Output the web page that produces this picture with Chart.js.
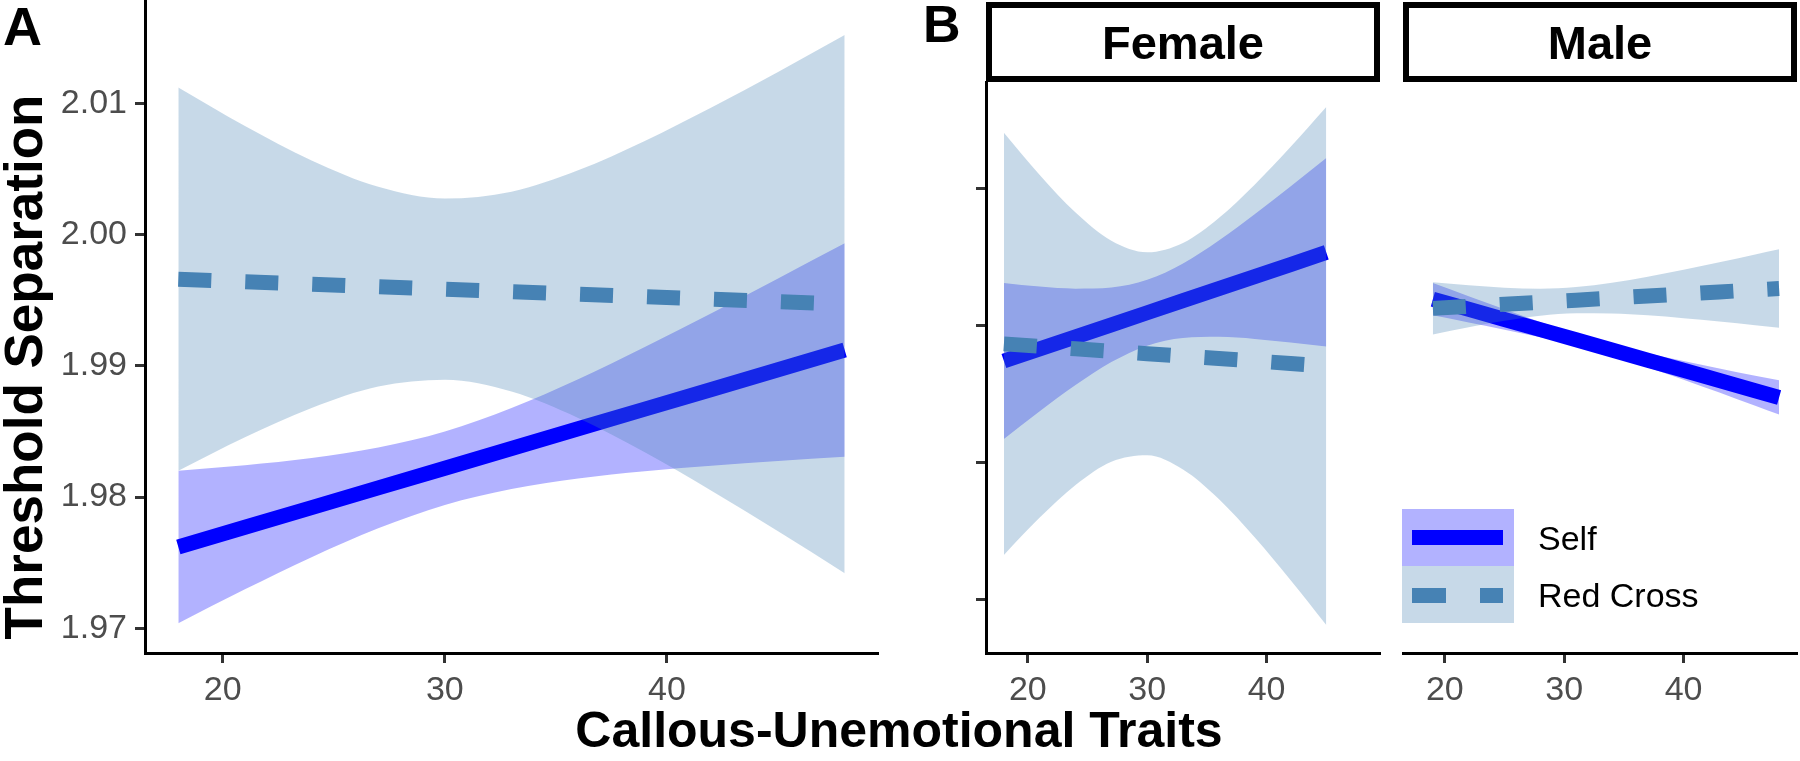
<!DOCTYPE html>
<html>
<head>
<meta charset="utf-8">
<script src="https://cdn.jsdelivr.net/npm/chart.js@4.4.1/dist/chart.umd.min.js"></script>
<style>
body { margin: 0; background: #fff; }
#wrap { position: relative; width: 1800px; height: 761px; overflow: hidden; font-family: 'Liberation Sans', Arial, sans-serif; }
canvas { position: absolute; top: 0; }
.lbl { position: absolute; font-weight: bold; line-height: 1; color: #000; white-space: nowrap; }
.strip { position: absolute; top: 2px; height: 80px; box-sizing: border-box; border: 6px solid #000; font-weight: bold; font-size: 47px; display: flex; align-items: center; justify-content: center; background: #fff; }
.box { position: absolute; }
.legtxt { position: absolute; font-size: 34px; line-height: 34px; color: #000; white-space: nowrap; }
</style>
</head>
<body>
<div id="wrap">
  <canvas id="panelA" width="900" height="761" style="left:0px"></canvas>
  <canvas id="panelF" width="500" height="761" style="left:900px"></canvas>
  <canvas id="panelM" width="410" height="761" style="left:1390px"></canvas>

  <div class="lbl" style="left:3px; top:-1px; font-size:54px;">A</div>
  <div class="lbl" style="left:923px; top:-2px; font-size:52px;">B</div>

  <div class="strip" style="left:986px; width:394px;">Female</div>
  <div class="strip" style="left:1403px; width:394px;">Male</div>

  <div class="lbl" style="left:-276px; top:341px; width:600px; height:52px; font-size:53px; line-height:52px; text-align:center; transform:rotate(-90deg);">Threshold Separation</div>
  <div class="lbl" style="left:0px; top:705px; width:1798px; font-size:50px; text-align:center;">Callous-Unemotional Traits</div>

  <div class="box" style="left:1402px; top:509px; width:112px; height:57px; background:rgba(0,0,255,0.3);"></div>
  <div class="box" style="left:1402px; top:566px; width:112px; height:57px; background:rgba(70,130,180,0.3);"></div>
  <div class="box" style="left:1412px; top:530px; width:91px; height:15px; background:#0000ff;"></div>
  <div class="box" style="left:1412px; top:588px; width:34px; height:15px; background:#4682b4;"></div>
  <div class="box" style="left:1480px; top:588px; width:23px; height:15px; background:#4682b4;"></div>
  <div class="legtxt" style="left:1538px; top:521px;">Self</div>
  <div class="legtxt" style="left:1538px; top:578px;">Red Cross</div>
</div>

<script>
// tick labels
const xTicks = [20, 30, 40];
const yTicksA = [1.97, 1.98, 1.99, 2.00, 2.01];
const yTicksB = [1.97, 1.98, 1.99, 2.00];

// panel A (all participants)
const cuA = [18, 21, 24, 27, 30, 33, 36, 39, 42, 45, 48];
const selfA = [1.9762, 1.9777, 1.9792, 1.9807, 1.9822, 1.9837, 1.9852, 1.9867, 1.9882, 1.9897, 1.9912];
const selfHiA = [1.98201, 1.98243, 1.98298, 1.98378, 1.98500, 1.98678, 1.98898, 1.99143, 1.99401, 1.99665, 1.99933];
const selfLoA = [1.97039, 1.97297, 1.97542, 1.97762, 1.97940, 1.98062, 1.98142, 1.98197, 1.98239, 1.98275, 1.98307];
const rcA = [1.99660, 1.99641, 1.99622, 1.99603, 1.99584, 1.99565, 1.99546, 1.99527, 1.99508, 1.99489, 1.99470];
const rcHiA = [2.01120, 2.00827, 2.00565, 2.00364, 2.00274, 2.00326, 2.00489, 2.00713, 2.00968, 2.01239, 2.01520];
const rcLoA = [1.98200, 1.98455, 1.98679, 1.98842, 1.98894, 1.98804, 1.98603, 1.98341, 1.98048, 1.97739, 1.97420];

// panel B, Female
const cuF = [18, 21, 24, 27, 30, 33, 36, 39, 42, 45];
const selfF = [1.98744, 1.98832, 1.98920, 1.99008, 1.99096, 1.99184, 1.99272, 1.99360, 1.99448, 1.99537];
const selfHiF = [1.99313, 1.99287, 1.99272, 1.99280, 1.99336, 1.99456, 1.99624, 1.99815, 2.00017, 2.00225];
const selfLoF = [1.98175, 1.98377, 1.98568, 1.98736, 1.98856, 1.98912, 1.98920, 1.98905, 1.98879, 1.98849];
const rcF = [1.98869, 1.98851, 1.98833, 1.98815, 1.98797, 1.98779, 1.98762, 1.98744, 1.98726, 1.98708];
const rcHiF = [2.00409, 2.00101, 1.99827, 1.99621, 1.99537, 1.99605, 1.99787, 2.00031, 2.00306, 2.00598];
const rcLoF = [1.97329, 1.97601, 1.97839, 1.98009, 1.98057, 1.97953, 1.97737, 1.97457, 1.97146, 1.96818];

// panel B, Male
const cuM = [19, 22, 25, 28, 31, 34, 37, 40, 43, 46, 48];
const selfM = [1.99195, 1.99121, 1.99047, 1.98973, 1.98899, 1.98824, 1.98750, 1.98676, 1.98602, 1.98527, 1.98478];
const selfHiM = [1.99313, 1.99217, 1.99122, 1.99029, 1.98942, 1.98865, 1.98801, 1.98744, 1.98690, 1.98637, 1.98603];
const selfLoM = [1.99077, 1.99025, 1.98972, 1.98917, 1.98856, 1.98783, 1.98699, 1.98608, 1.98514, 1.98417, 1.98353];
const rcM = [1.99128, 1.99143, 1.99158, 1.99173, 1.99188, 1.99203, 1.99218, 1.99233, 1.99248, 1.99263, 1.99273];
const rcHiM = [1.99318, 1.99296, 1.99279, 1.99272, 1.99284, 1.99315, 1.99359, 1.99410, 1.99464, 1.99521, 1.99559];
const rcLoM = [1.98938, 1.98990, 1.99037, 1.99074, 1.99092, 1.99091, 1.99077, 1.99056, 1.99032, 1.99005, 1.98987];

const selfColor = '#0000ff';
const rcColor = '#4682b4';
const selfBand = 'rgba(0, 0, 255, 0.3)';
const rcBand = 'rgba(70, 130, 180, 0.3)';

Chart.defaults.font.family = "'Liberation Sans', Arial, sans-serif";

function pts(xs, ys) {
    return xs.map(function (x, i) { return { x: x, y: ys[i] }; });
}

function band(data, fillTo, color, order) {
    return {
        data: data,
        borderWidth: 0,
        borderColor: 'transparent',
        backgroundColor: color,
        fill: fillTo,
        cubicInterpolationMode: 'monotone',
        pointRadius: 0,
        order: order
    };
}

function makePanel(id, p) {
    var ctx = document.getElementById(id);
    return new Chart(ctx, {
        type: 'line',
        data: {
            datasets: [
                {
                    label: 'Red Cross',
                    data: pts(p.x, p.rc),
                    borderColor: rcColor,
                    borderWidth: 15,
                    borderDash: [33, 34],
                    borderCapStyle: 'butt',
                    tension: 0,
                    pointRadius: 0,
                    fill: false,
                    order: 1
                },
                band(pts(p.x, p.rcHi), 2, rcBand, 2),
                band(pts(p.x, p.rcLo), false, 'transparent', 3),
                {
                    label: 'Self',
                    data: pts(p.x, p.self),
                    borderColor: selfColor,
                    borderWidth: 15,
                    borderCapStyle: 'butt',
                    tension: 0,
                    pointRadius: 0,
                    fill: false,
                    order: 4
                },
                band(pts(p.x, p.selfHi), 5, selfBand, 5),
                band(pts(p.x, p.selfLo), false, 'transparent', 6)
            ]
        },
        options: {
            responsive: false,
            animation: false,
            devicePixelRatio: 1,
            events: [],
            layout: { padding: p.pad },
            plugins: {
                legend: { display: false },
                tooltip: { enabled: false }
            },
            scales: {
                x: {
                    type: 'linear',
                    min: 16.5,
                    max: 49.5,
                    afterBuildTicks: function (s) { s.ticks = xTicks.map(function (v) { return { value: v }; }); },
                    afterFit: function (s) { s.height = 108; s.paddingLeft = 0; s.paddingRight = 0; },
                    border: { display: true, color: '#000', width: 3 },
                    grid: { display: true, drawOnChartArea: false, drawTicks: true, tickLength: 10, tickWidth: 3, tickColor: '#333' },
                    ticks: {
                        font: { size: 34 },
                        color: '#4d4d4d',
                        padding: 7,
                        maxRotation: 0,
                        autoSkip: false,
                        callback: function (v) { return String(v); }
                    }
                },
                y: {
                    type: 'linear',
                    display: p.showY,
                    min: p.yMin,
                    max: p.yMax,
                    afterBuildTicks: function (s) { s.ticks = p.yTicks.map(function (v) { return { value: v }; }); },
                    afterFit: function (s) { s.width = p.yWidth; s.paddingTop = 0; s.paddingBottom = 0; },
                    border: { display: true, color: '#000', width: 3 },
                    grid: { display: true, drawOnChartArea: false, drawTicks: true, tickLength: 10, tickWidth: 3, tickColor: '#333' },
                    ticks: {
                        font: { size: 34 },
                        color: '#4d4d4d',
                        padding: 8,
                        autoSkip: false,
                        callback: function (v) { return p.yLabels ? v.toFixed(2) : ''; }
                    }
                }
            }
        }
    });
}

makePanel('panelA', {
    x: cuA, self: selfA, selfHi: selfHiA, selfLo: selfLoA, rc: rcA, rcHi: rcHiA, rcLo: rcLoA,
    yMin: 1.96812, yMax: 2.01787, yTicks: yTicksA, yLabels: true, showY: true, yWidth: 145,
    pad: { left: 0, right: 22, top: 0, bottom: 0 }
});

makePanel('panelF', {
    x: cuF, self: selfF, selfHi: selfHiF, selfLo: selfLoF, rc: rcF, rcHi: rcHiF, rcLo: rcLoF,
    yMin: 1.96613, yMax: 2.0078, yTicks: yTicksB, yLabels: false, showY: true, yWidth: 86,
    pad: { left: 0, right: 20, top: 82, bottom: 0 }
});

makePanel('panelM', {
    x: cuM, self: selfM, selfHi: selfHiM, selfLo: selfLoM, rc: rcM, rcHi: rcHiM, rcLo: rcLoM,
    yMin: 1.96613, yMax: 2.0078, yTicks: yTicksB, yLabels: false, showY: false, yWidth: 0,
    pad: { left: 13, right: 3, top: 82, bottom: 0 }
});
</script>
</body>
</html>
